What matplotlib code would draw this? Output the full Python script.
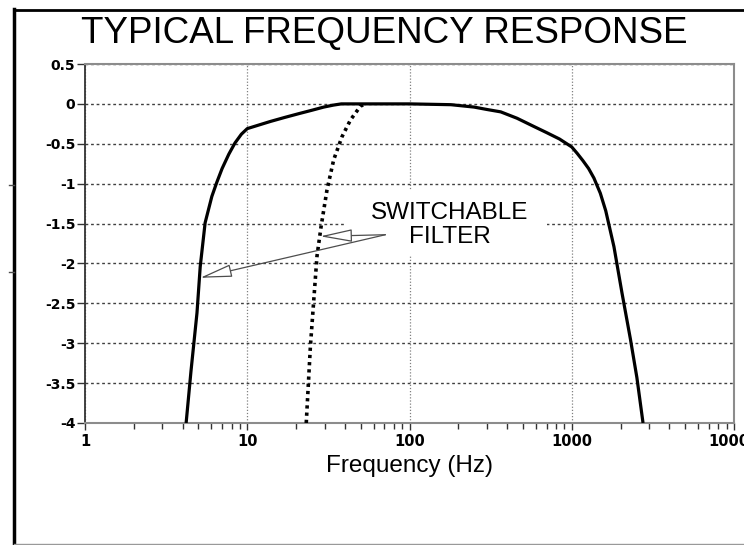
import matplotlib
matplotlib.use('Agg')
import matplotlib.pyplot as plt
from matplotlib.lines import Line2D
from matplotlib.patches import Rectangle
from matplotlib.ticker import LogLocator, NullFormatter, FixedLocator

plt.rcParams['font.family'] = ['Liberation Sans', 'DejaVu Sans']

title = "TYPICAL FREQUENCY RESPONSE"
xlabel = "Frequency (Hz)"
annotation = "SWITCHABLE\nFILTER"

# Full-band response (solid)
full_freq = [4.2, 4.5, 4.9, 5.13, 5.5, 6.05, 6.5, 7.0, 7.7, 8.4, 9.2, 10, 12,
             13.9, 17, 21, 25, 29.6, 34, 38, 60, 100, 180, 250, 300, 365, 460,
             580, 700, 840, 1000, 1080, 1170, 1270, 1370, 1500, 1620, 1820,
             2040, 2300, 2520, 2750]
full_resp = [-4, -3.35, -2.62, -2.04, -1.49, -1.16, -0.98, -0.81, -0.63, -0.49,
             -0.38, -0.31, -0.26, -0.22, -0.17, -0.12, -0.08, -0.04, -0.015, 0,
             0, 0, -0.01, -0.04, -0.07, -0.1, -0.18, -0.28, -0.36, -0.44, -0.54,
             -0.62, -0.71, -0.81, -0.93, -1.12, -1.34, -1.79, -2.37, -2.95,
             -3.43, -4]

# Switchable high-pass filter (dotted)
switch_freq = [23.1, 24.5, 25.7, 26.9, 28.5, 31.0, 34.1, 38.4, 43.3, 49.8, 53]
switch_resp = [-4, -3.04, -2.46, -1.91, -1.54, -1.08, -0.70, -0.41, -0.20, -0.03, 0]

y_ticks = [0.5, 0, -0.5, -1, -1.5, -2, -2.5, -3, -3.5, -4]
y_tick_labels = ["0.5", "0", "-0.5", "-1", "-1.5", "-2", "-2.5", "-3", "-3.5", "-4"]
x_ticks = [1, 10, 100, 1000, 10000]
x_tick_labels = ["1", "10", "100", "1000", "10000"]

label_pos = (177, -1.52)
arrow_tail = (71, -1.64)
arrow_tips = [(28.2, -1.66), (5.13, -2.18)]

W, H = 744, 545
fig = plt.figure(figsize=(W / 100, H / 100), dpi=100)
ax = fig.add_axes([85 / W, 1 - 423 / H, (734 - 85) / W, (423 - 64) / H])
ax.set_xscale('log')
ax.set_xlim(1, 10000)
ax.set_ylim(-4, 0.5)

ax.set_axisbelow(True)
ax.yaxis.set_major_locator(FixedLocator(y_ticks))
ax.set_yticklabels(y_tick_labels)
ax.xaxis.set_major_locator(FixedLocator(x_ticks))
ax.set_xticklabels(x_tick_labels)
ax.xaxis.set_minor_locator(LogLocator(base=10, subs=range(2, 10)))
ax.xaxis.set_minor_formatter(NullFormatter())

ax.grid(True, axis='y', which='major', color='0.25', linestyle=(0, (2, 2)), lw=1.0)
ax.grid(True, axis='x', which='major', color='0.5', linestyle=(0, (1, 1.5)), lw=0.9)

ax.add_patch(Rectangle((0.4006, 0.468), 0.311, 0.181, transform=ax.transAxes,
                       fc='white', ec='none', zorder=1))

ax.plot(full_freq, full_resp, color='black', lw=2.3, solid_joinstyle='round',
        solid_capstyle='butt', zorder=3)
ax.plot(switch_freq, switch_resp, color='black', lw=2.6, linestyle=(0, (0.9, 1.1)),
        zorder=3)

ax.text(label_pos[0], label_pos[1], annotation, ha='center', va='center',
        multialignment='center', fontsize=17.5, linespacing=1.15, zorder=4)
for tip in arrow_tips:
    ax.annotate('', xy=tip, xytext=arrow_tail,
                arrowprops=dict(arrowstyle='-|>,head_length=2.0,head_width=0.4',
                                fc='white', ec='0.3', lw=0.9, shrinkA=0, shrinkB=0),
                zorder=4)

for side in ['top', 'right', 'bottom']:
    ax.spines[side].set_color('0.55')
    ax.spines[side].set_linewidth(1.5)
ax.spines['left'].set_color('0.2')
ax.spines['left'].set_linewidth(1.3)

ax.tick_params(axis='y', direction='out', length=6, width=1, color='0.2', pad=1,
               labelsize=10)
ax.tick_params(axis='x', which='major', direction='out', length=5, width=1,
               color='0.2', pad=3, labelsize=10.5)
ax.tick_params(axis='x', which='minor', direction='out', length=4, width=1,
               color='0.2')
for lab in ax.get_xticklabels() + ax.get_yticklabels():
    lab.set_fontweight('bold')
    lab.set_family(['DejaVu Sans'])

ax.set_xlabel(xlabel, fontsize=17.5, labelpad=4)

fig.text(384 / W, 1 - 33 / H, title, ha='center', va='center', fontsize=26.5)

# outer frame
fig.add_artist(Line2D([14 / W, 14 / W], [0, 1 - 9 / H], color='black', lw=2.5,
                      transform=fig.transFigure))
fig.add_artist(Line2D([14 / W, 1], [1 - 10 / H, 1 - 10 / H], color='black', lw=2,
                      transform=fig.transFigure))
fig.add_artist(Line2D([14 / W, 1], [1 - 544 / H, 1 - 544 / H], color='0.6', lw=1,
                      transform=fig.transFigure))
for yy in (185, 272):
    fig.add_artist(Line2D([9 / W, 14 / W], [1 - yy / H, 1 - yy / H], color='0.3',
                          lw=1, transform=fig.transFigure))

fig.savefig('out.png', dpi=100, facecolor='white')
